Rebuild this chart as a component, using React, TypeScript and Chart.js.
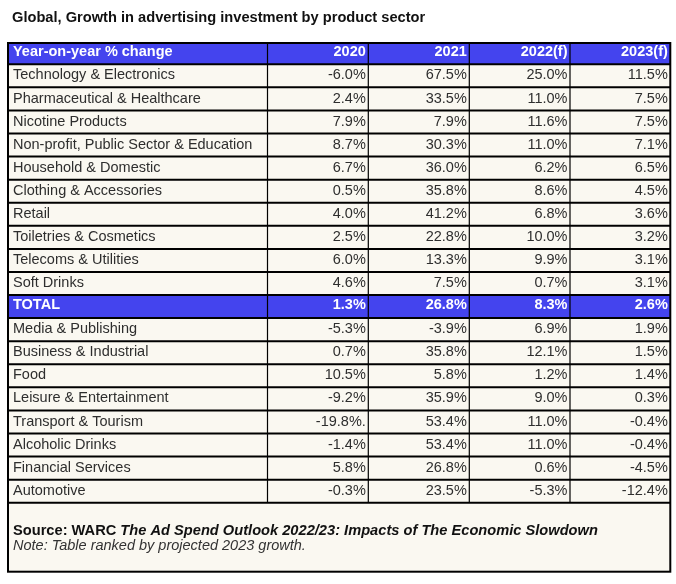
import React, { useEffect, useRef } from 'react';
import { Chart, registerables } from 'chart.js';

Chart.register(...registerables);

const chartTitle = 'Global, Growth in advertising investment by product sector';
const headerLabel = 'Year-on-year % change';
const years = ['2020', '2021', '2022(f)', '2023(f)'];
const totalLabel = 'TOTAL';
const sectors = [
  'Technology & Electronics',
  'Pharmaceutical & Healthcare',
  'Nicotine Products',
  'Non-profit, Public Sector & Education',
  'Household & Domestic',
  'Clothing & Accessories',
  'Retail',
  'Toiletries & Cosmetics',
  'Telecoms & Utilities',
  'Soft Drinks',
  'TOTAL',
  'Media & Publishing',
  'Business & Industrial',
  'Food',
  'Leisure & Entertainment',
  'Transport & Tourism',
  'Alcoholic Drinks',
  'Financial Services',
  'Automotive',
];
const v2020 = [-6.0, 2.4, 7.9, 8.7, 6.7, 0.5, 4.0, 2.5, 6.0, 4.6, 1.3, -5.3, 0.7, 10.5, -9.2, -19.8, -1.4, 5.8, -0.3];
const v2021 = [67.5, 33.5, 7.9, 30.3, 36.0, 35.8, 41.2, 22.8, 13.3, 7.5, 26.8, -3.9, 35.8, 5.8, 35.9, 53.4, 53.4, 26.8, 23.5];
const v2022 = [25.0, 11.0, 11.6, 11.0, 6.2, 8.6, 6.8, 10.0, 9.9, 0.7, 8.3, 6.9, 12.1, 1.2, 9.0, 11.0, 11.0, 0.6, -5.3];
const v2023 = [11.5, 7.5, 7.5, 7.1, 6.5, 4.5, 3.6, 3.2, 3.1, 3.1, 2.6, 1.9, 1.5, 1.4, 0.3, -0.4, -0.4, -4.5, -12.4];
// the source table prints a stray full stop after one value
const strayDot = { sector: 'Transport & Tourism', year: '2020' };

const sourcePrefix = 'Source: WARC ';
const sourceTitle = 'The Ad Spend Outlook 2022/23: Impacts of The Economic Slowdown';
const noteText = 'Note: Table ranked by projected 2023 growth.';

// layout / style
const FONT = "'Liberation Sans', Arial, sans-serif";
const FS = 14.5;
const FS_TITLE = 14.65;
const colWidths = [259.5, 100.8, 101, 100.7, 100.3];
const BLUE = '#4444ee';
const CREAM = '#faf8f1';
const TEXT = '#2e2e2e';
const HEADER_TOP = 43;
const FOOTER_BOTTOM = 571.7;

const fmt = (v: number) => v.toFixed(1) + '%';

const tablePlugin = {
  id: 'tableDraw',
  beforeDraw(chart: any) {
    const ctx = chart.ctx as CanvasRenderingContext2D;
    ctx.save();
    ctx.fillStyle = '#ffffff';
    ctx.fillRect(0, 0, chart.width, chart.height);
    ctx.fillStyle = '#111';
    ctx.font = `bold ${FS_TITLE}px ${FONT}`;
    ctx.textBaseline = 'alphabetic';
    ctx.textAlign = 'left';
    ctx.fillText(chartTitle, 12, 22);
    ctx.restore();
  },
  afterDraw(chart: any) {
    const ctx = chart.ctx as CanvasRenderingContext2D;
    const xs = chart.scales.x;
    const ys = chart.scales.y;
    const area = chart.chartArea;
    const labels: string[] = chart.data.labels;
    const n = labels.length;
    const half = (ys.getPixelForValue(1) - ys.getPixelForValue(0)) / 2;

    const edges: number[] = [0];
    colWidths.forEach((w, i) => edges.push(edges[i] + w));
    const ex = edges.map((e) => xs.getPixelForValue(e));
    const left = ex[0];
    const right = ex[ex.length - 1];

    ctx.save();
    // backgrounds
    ctx.fillStyle = CREAM;
    ctx.fillRect(left, HEADER_TOP, right - left, FOOTER_BOTTOM - HEADER_TOP);
    ctx.fillStyle = BLUE;
    ctx.fillRect(left, HEADER_TOP, right - left, area.top - HEADER_TOP);
    labels.forEach((lab, i) => {
      if (lab === totalLabel) {
        const c = ys.getPixelForValue(i);
        ctx.fillRect(left, c - half, right - left, half * 2);
      }
    });

    // header text
    ctx.textBaseline = 'alphabetic';
    ctx.fillStyle = '#ffffff';
    ctx.font = `bold ${FS}px ${FONT}`;
    ctx.textAlign = 'left';
    const hb = (HEADER_TOP + area.top) / 2 + 2.6;
    ctx.fillText(headerLabel, left + 5, hb);
    ctx.textAlign = 'right';
    chart.data.datasets.forEach((ds: any, j: number) => {
      ctx.fillText(ds.label, ex[j + 2] - 2.5, hb);
    });

    // body text
    labels.forEach((lab, i) => {
      const c = ys.getPixelForValue(i);
      const isTotal = lab === totalLabel;
      ctx.font = `${isTotal ? 'bold ' : ''}${FS}px ${FONT}`;
      ctx.fillStyle = isTotal ? '#ffffff' : TEXT;
      const base = c + (isTotal ? 2.8 : 3.6);
      ctx.textAlign = 'left';
      ctx.fillText(lab, left + 5, base);
      ctx.textAlign = 'right';
      chart.data.datasets.forEach((ds: any, j: number) => {
        let s = fmt(ds.data[i]);
        if (lab === strayDot.sector && ds.label === strayDot.year) s += '.';
        ctx.fillText(s, ex[j + 2] - 2.5, base);
      });
    });

    // grid lines
    ctx.strokeStyle = '#000';
    ctx.lineWidth = 1.2;
    for (let k = 1; k < ex.length - 1; k++) {
      ctx.beginPath();
      ctx.moveTo(ex[k], HEADER_TOP);
      ctx.lineTo(ex[k], area.bottom);
      ctx.stroke();
    }
    ctx.lineWidth = 2;
    for (let i = 0; i <= n; i++) {
      const y = i < n ? ys.getPixelForValue(i) - half : ys.getPixelForValue(n - 1) + half;
      ctx.beginPath();
      ctx.moveTo(left, y);
      ctx.lineTo(right, y);
      ctx.stroke();
    }
    ctx.strokeRect(left, HEADER_TOP, right - left, FOOTER_BOTTOM - HEADER_TOP);

    // footer
    ctx.textAlign = 'left';
    ctx.fillStyle = '#111';
    ctx.font = `bold ${FS_TITLE}px ${FONT}`;
    ctx.fillText(sourcePrefix, left + 5, 535);
    const w = ctx.measureText(sourcePrefix).width;
    ctx.font = `italic bold ${FS_TITLE}px ${FONT}`;
    ctx.fillText(sourceTitle, left + 5 + w, 535);
    ctx.font = `italic ${FS}px ${FONT}`;
    ctx.fillStyle = '#333';
    ctx.fillText(noteText, left + 5, 549.5);
    ctx.restore();
  },
};

export default function App() {
  const ref = useRef<HTMLCanvasElement>(null);
  useEffect(() => {
    if (!ref.current) return;
    const total = colWidths.reduce((a, b) => a + b, 0);
    const chart = new Chart(ref.current, {
      type: 'bar',
      data: {
        labels: sectors,
        datasets: [
          { label: years[0], data: v2020, hidden: true },
          { label: years[1], data: v2021, hidden: true },
          { label: years[2], data: v2022, hidden: true },
          { label: years[3], data: v2023, hidden: true },
        ],
      },
      options: {
        indexAxis: 'y',
        responsive: false,
        animation: false,
        devicePixelRatio: 1,
        layout: { padding: { left: 8, right: 5.7, top: 64.3, bottom: 81.3 } },
        scales: {
          x: { type: 'linear', min: 0, max: total, display: false },
          y: { type: 'category', offset: true, display: false },
        },
        plugins: {
          legend: { display: false },
          tooltip: { enabled: false },
          title: { display: false },
        },
      },
      plugins: [tablePlugin],
    } as any);
    return () => chart.destroy();
  }, []);
  return (
    <div style={{ position: 'fixed', left: 0, top: 0 }}>
      <canvas ref={ref} width={676} height={584} style={{ display: 'block' }} />
    </div>
  );
}
